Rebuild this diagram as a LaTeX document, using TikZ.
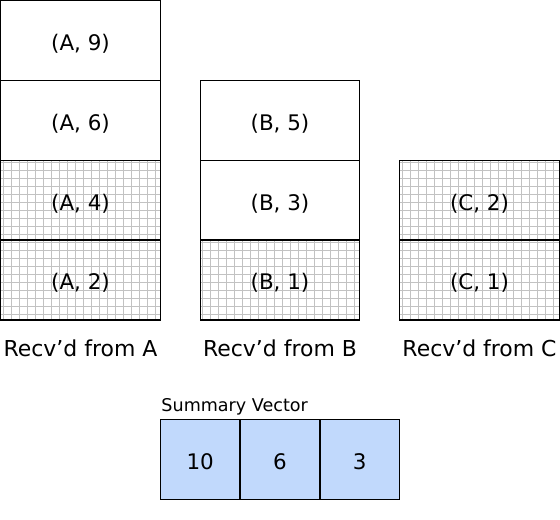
\documentclass[tikz,border=0pt]{standalone}
\usepackage{fontspec}
\setmainfont{DejaVu Sans}
\definecolor{sumblue}{RGB}{193,217,252}
\begin{document}
\begin{tikzpicture}[x=1pt,y=-1pt,
  gridline/.style={draw=black!24, line width=0.75pt, step=8pt},
  cell/.style={draw=black, line width=1.3pt, minimum width=160pt, minimum height=80pt,
    inner sep=0pt, outer sep=0pt, font=\fontsize{21.5}{25}\selectfont, text height=20pt, text depth=0pt},
  gridcell/.style={cell, path picture={\draw[gridline] (path picture bounding box.south west) grid (path picture bounding box.north east);}},
  sumcell/.style={cell, minimum width=80pt, fill=sumblue},
  collabel/.style={anchor=base, inner sep=0pt, font=\fontsize{22}{26}\selectfont},
  sumlabel/.style={anchor=base west, inner sep=0pt, font=\fontsize{17.6}{20}\selectfont}
]
\useasboundingbox (-0.7,-0.7) rectangle (560.7,520);
% Column A
\node[cell] (a9) at (80,40) {(A, 9)};
\node[cell] (a6) at (80,120) {(A, 6)};
\node[gridcell] (a4) at (80,200) {(A, 4)};
\node[gridcell] (a2) at (80,280) {(A, 2)};
% Column B
\node[cell] (b5) at (280,120) {(B, 5)};
\node[cell] (b3) at (280,200) {(B, 3)};
\node[gridcell] (b1) at (280,280) {(B, 1)};
% Column C
\node[gridcell] (c2) at (480,200) {(C, 2)};
\node[gridcell] (c1) at (480,280) {(C, 1)};
% Column labels
\node[collabel] (la) at (80,357) {Recv’d from A};
\node[collabel] (lb) at (280,357) {Recv’d from B};
\node[collabel] (lc) at (480,357) {Recv’d from C};
% Summary vector
\node[sumlabel] (sl) at (161,412) {Summary Vector};
\node[sumcell] (s1) at (200,460) {10};
\node[sumcell] (s2) at (280,460) {6};
\node[sumcell] (s3) at (360,460) {3};
\end{tikzpicture}
\end{document}
